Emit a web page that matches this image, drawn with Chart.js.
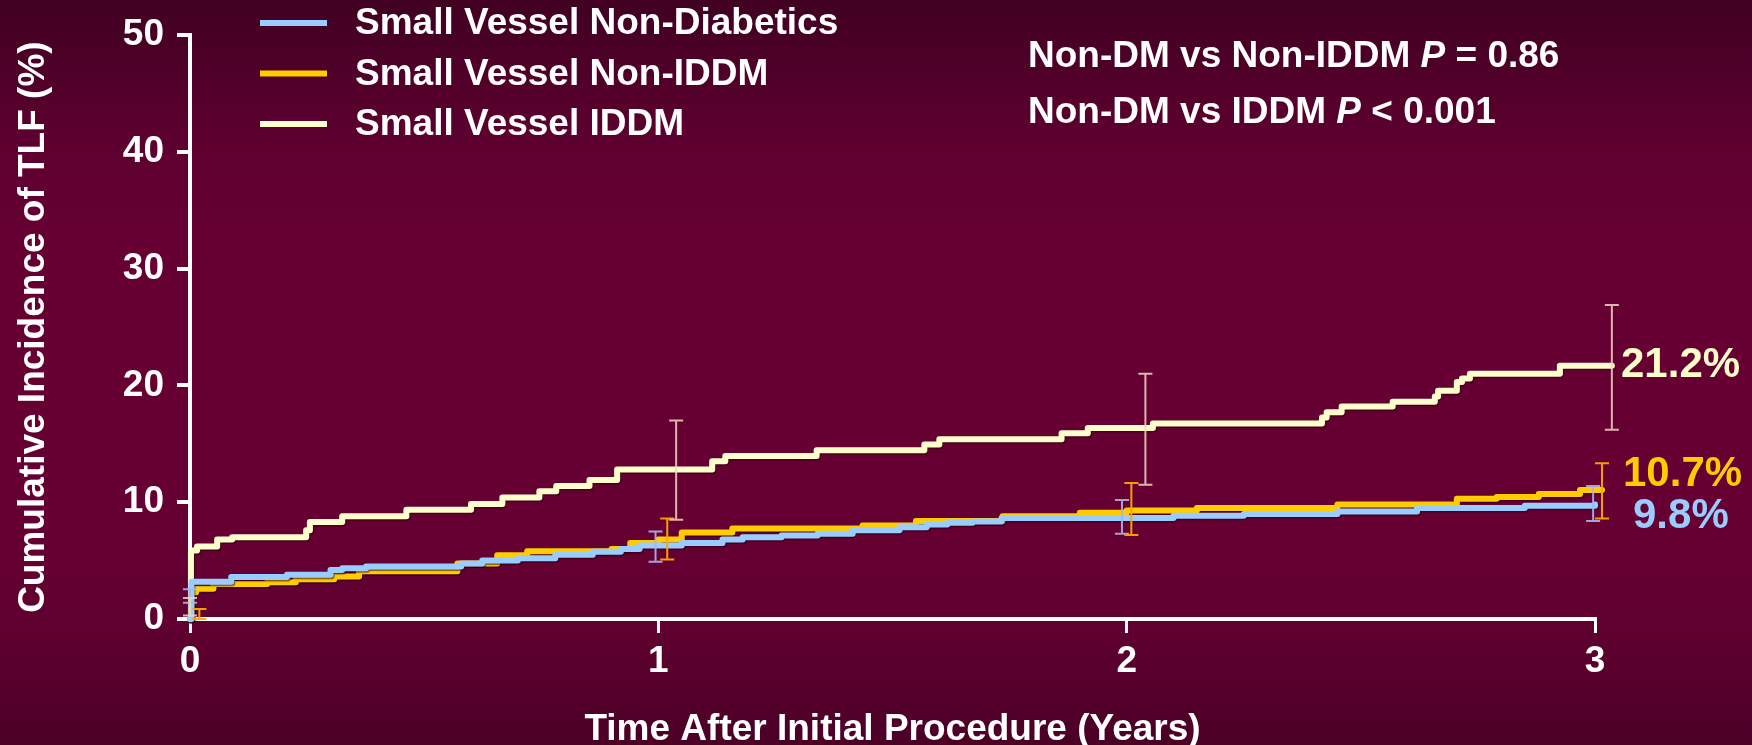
<!DOCTYPE html>
<html><head><meta charset="utf-8">
<script src="https://cdn.jsdelivr.net/npm/chart.js@4"></script>
<style>html,body{margin:0;padding:0;background:#5a002d;overflow:hidden}#c{display:block}</style>
</head><body>
<canvas id="c" width="1752" height="745"></canvas>
<script>
// ---------------- data ----------------
const seriesLabels = ['Small Vessel Non-Diabetics', 'Small Vessel Non-IDDM', 'Small Vessel IDDM'];
const xTickValues = [0, 1, 2, 3];
const yTickValues = [0, 10, 20, 30, 40, 50];
const xTitle = 'Time After Initial Procedure (Years)';
const yTitle = 'Cumulative Incidence of TLF (%)';

const nonDiabeticsT = [0, 0.003, 0.088, 0.207, 0.30, 0.325, 0.376, 0.579, 0.624, 0.70, 0.78, 0.86, 0.92, 0.96, 1.05, 1.137, 1.18, 1.263, 1.34, 1.415, 1.515, 1.573, 1.617, 1.671, 1.733, 2.10, 2.25, 2.45, 2.62, 2.85, 3.0];
const nonDiabeticsV = [0, 3.2, 3.6, 3.8, 4.2, 4.35, 4.5, 4.75, 5.0, 5.2, 5.5, 5.75, 6.0, 6.3, 6.5, 6.8, 7.0, 7.15, 7.3, 7.6, 7.85, 8.1, 8.25, 8.35, 8.65, 8.85, 9.0, 9.2, 9.5, 9.7, 9.8];

const nonIddmT = [0, 0.003, 0.013, 0.05, 0.165, 0.226, 0.308, 0.361, 0.571, 0.656, 0.72, 0.90, 0.94, 1.0, 1.05, 1.158, 1.436, 1.55, 1.735, 1.90, 2.0, 2.15, 2.45, 2.705, 2.79, 2.88, 2.968, 3.015];
const nonIddmV = [0, 2.3, 2.6, 3.0, 3.15, 3.4, 3.65, 4.1, 4.75, 5.45, 5.8, 6.0, 6.5, 6.8, 7.4, 7.75, 8.0, 8.4, 8.8, 9.1, 9.3, 9.5, 9.8, 10.3, 10.45, 10.7, 11.05, 11.05];

const iddmT = [0, 0.002, 0.015, 0.058, 0.09, 0.248, 0.256, 0.325, 0.462, 0.60, 0.667, 0.746, 0.782, 0.853, 0.912, 1.115, 1.143, 1.338, 1.568, 1.60, 1.861, 1.917, 2.056, 2.417, 2.427, 2.459, 2.568, 2.658, 2.665, 2.705, 2.716, 2.733, 2.925, 3.036];
const iddmV = [0, 5.87, 6.2, 6.8, 7.0, 7.6, 8.3, 8.8, 9.35, 9.85, 10.4, 10.95, 11.4, 11.9, 12.8, 13.5, 13.95, 14.45, 14.95, 15.4, 15.9, 16.35, 16.75, 17.25, 17.7, 18.2, 18.6, 19.05, 19.55, 20.3, 20.6, 21.0, 21.7, 21.7];

const nonDiabeticsErrT = [0.0, 0.994, 1.99, 2.996];
const nonDiabeticsErrLo = [1.4, 4.9, 7.3, 8.4];
const nonDiabeticsErrHi = [2.55, 7.5, 10.2, 11.4];
const nonIddmErrT = [0.02, 1.019, 2.01, 3.015];
const nonIddmErrLo = [0.0, 5.1, 7.2, 8.6];
const nonIddmErrHi = [0.85, 8.6, 11.65, 13.35];
const iddmErrT = [0.0, 1.038, 2.04, 3.036];
const iddmErrLo = [0.3, 8.5, 11.5, 16.2];
const iddmErrHi = [1.8, 17.0, 21.0, 26.9];

const endLabels = ['9.8%', '10.7%', '21.2%'];
const pValueLines = [
  ['Non-DM vs Non-IDDM ', 'P', ' = 0.86'],
  ['Non-DM vs IDDM ', 'P', ' < 0.001']
];

// ---------------- helpers ----------------
const FONT = '"Liberation Sans", Arial, Helvetica, sans-serif';
function toXY(ts, vs) { return ts.map((t, i) => ({ x: t, y: vs[i] })); }

const bgPlugin = {
  id: 'bg',
  beforeDraw(chart) {
    const { ctx, width, height } = chart;
    const g = ctx.createLinearGradient(0, 0, 0, height);
    g.addColorStop(0, '#410021');
    g.addColorStop(0.18, '#5c002f');
    g.addColorStop(0.32, '#660033');
    g.addColorStop(0.72, '#660033');
    g.addColorStop(0.86, '#5e002f');
    g.addColorStop(1, '#4b0026');
    ctx.save();
    ctx.fillStyle = g;
    ctx.fillRect(0, 0, width, height);
    ctx.restore();
  }
};

const shadowPlugin = {
  id: 'lineShadow',
  beforeDatasetDraw(chart) {
    const ctx = chart.ctx;
    ctx.save();
    ctx.shadowColor = 'rgba(40,0,10,0.55)';
    ctx.shadowBlur = 1;
    ctx.shadowOffsetX = 1;
    ctx.shadowOffsetY = 1.5;
  },
  afterDatasetDraw(chart) { chart.ctx.restore(); }
};

const errPlugin = {
  id: 'errBars',
  afterDatasetsDraw(chart) {
    const { ctx, scales: { x, y } } = chart;
    ctx.save();
    chart.data.datasets.forEach(ds => {
      const e = ds.errorBars;
      if (!e) return;
      e.t.forEach((t, i) => {
        const px = x.getPixelForValue(t);
        const pLo = y.getPixelForValue(e.lo[i]);
        const pHi = y.getPixelForValue(e.hi[i]);
        ctx.strokeStyle = ds.errColor;
        ctx.lineWidth = 2;
        ctx.beginPath();
        ctx.moveTo(px, pLo); ctx.lineTo(px, pHi);
        ctx.moveTo(px - 7, pHi); ctx.lineTo(px + 7, pHi);
        ctx.moveTo(px - 7, pLo); ctx.lineTo(px + 7, pLo);
        ctx.stroke();
      });
    });
    ctx.restore();
  }
};

const annoPlugin = {
  id: 'anno',
  afterDraw(chart) {
    const { ctx, scales: { x, y } } = chart;
    ctx.save();
    // legend
    chart.data.datasets.forEach((ds, i) => {
      const cy = 23 + i * 50.5;
      ctx.strokeStyle = ds.borderColor;
      ctx.lineWidth = 6;
      ctx.lineCap = 'butt';
      ctx.beginPath(); ctx.moveTo(260, cy); ctx.lineTo(327, cy); ctx.stroke();
      ctx.fillStyle = '#ffffff';
      ctx.font = 'bold 37px ' + FONT;
      ctx.textBaseline = 'middle';
      ctx.textAlign = 'left';
      ctx.fillText(ds.label, 355, cy + 1);
    });
    // p-values
    pValueLines.forEach((parts, i) => {
      let cx = 1028;
      const cy = 57 + i * 56;
      parts.forEach((p, j) => {
        ctx.font = (j === 1 ? 'italic bold 37px ' : 'bold 37px ') + FONT;
        ctx.fillStyle = '#ffffff';
        ctx.textBaseline = 'middle';
        ctx.fillText(p, cx, cy);
        cx += ctx.measureText(p).width;
      });
    });
    // end labels
    const endPos = [[1633, 8.85], [1623, 12.45], [1621, 21.8]];
    chart.data.datasets.forEach((ds, i) => {
      ctx.font = 'bold 42px ' + FONT;
      ctx.fillStyle = ds.borderColor;
      ctx.textBaseline = 'middle';
      ctx.textAlign = 'left';
      ctx.fillText(endLabels[i], endPos[i][0], y.getPixelForValue(endPos[i][1]) + 1);
    });
    ctx.restore();
  }
};

const lineBase = { stepped: true, borderWidth: 6, pointRadius: 0, fill: false, clip: false, borderJoinStyle: 'round', borderCapStyle: 'round' };

new Chart(document.getElementById('c'), {
  type: 'line',
  data: {
    datasets: [
      Object.assign({ label: seriesLabels[0], data: toXY(nonDiabeticsT, nonDiabeticsV), borderColor: '#99CCFF', errColor: 'rgba(170,180,235,0.9)',
        errorBars: { t: nonDiabeticsErrT, lo: nonDiabeticsErrLo, hi: nonDiabeticsErrHi } }, lineBase),
      Object.assign({ label: seriesLabels[1], data: toXY(nonIddmT, nonIddmV), borderColor: '#FFCC00', errColor: 'rgba(255,165,0,0.95)',
        errorBars: { t: nonIddmErrT, lo: nonIddmErrLo, hi: nonIddmErrHi } }, lineBase),
      Object.assign({ label: seriesLabels[2], data: toXY(iddmT, iddmV), borderColor: '#FFFFCC', errColor: 'rgba(240,215,190,0.85)',
        errorBars: { t: iddmErrT, lo: iddmErrLo, hi: iddmErrHi } }, lineBase)
    ]
  },
  options: {
    responsive: false,
    animation: false,
    devicePixelRatio: 1,
    layout: { padding: { top: 31, right: 157, left: 0, bottom: 0 } },
    plugins: { legend: { display: false }, tooltip: { enabled: false } },
    scales: {
      x: {
        type: 'linear', min: 0, max: 3,
        afterFit(s) { s.height = 126; },
        afterBuildTicks(s) { s.ticks = xTickValues.map(v => ({ value: v })); },
        ticks: { color: '#ffffff', font: { family: FONT, size: 37, weight: 'bold' }, padding: 7, maxRotation: 0, autoSkip: false },
        grid: { drawOnChartArea: false, drawTicks: true, tickLength: 14, color: '#ffffff', lineWidth: 3 },
        border: { color: '#ffffff', width: 4 },
        title: { display: true, text: xTitle, color: '#ffffff', font: { family: FONT, size: 37, weight: 'bold' }, padding: { top: 0, bottom: -7 } }
      },
      y: {
        type: 'linear', min: 0, max: 50,
        afterFit(s) { s.width = 190; },
        afterBuildTicks(s) { s.ticks = yTickValues.map(v => ({ value: v })); },
        ticks: { color: '#ffffff', font: { family: FONT, size: 37, weight: 'bold' }, padding: 13, autoSkip: false },
        grid: { drawOnChartArea: false, drawTicks: true, tickLength: 13, color: '#ffffff', lineWidth: 4 },
        border: { color: '#ffffff', width: 4 },
        title: { display: true, text: yTitle, color: '#ffffff', font: { family: FONT, size: 37, weight: 'bold' }, padding: { top: 12, bottom: 0 } }
      }
    }
  },
  plugins: [bgPlugin, shadowPlugin, errPlugin, annoPlugin]
});
</script>
</body></html>
